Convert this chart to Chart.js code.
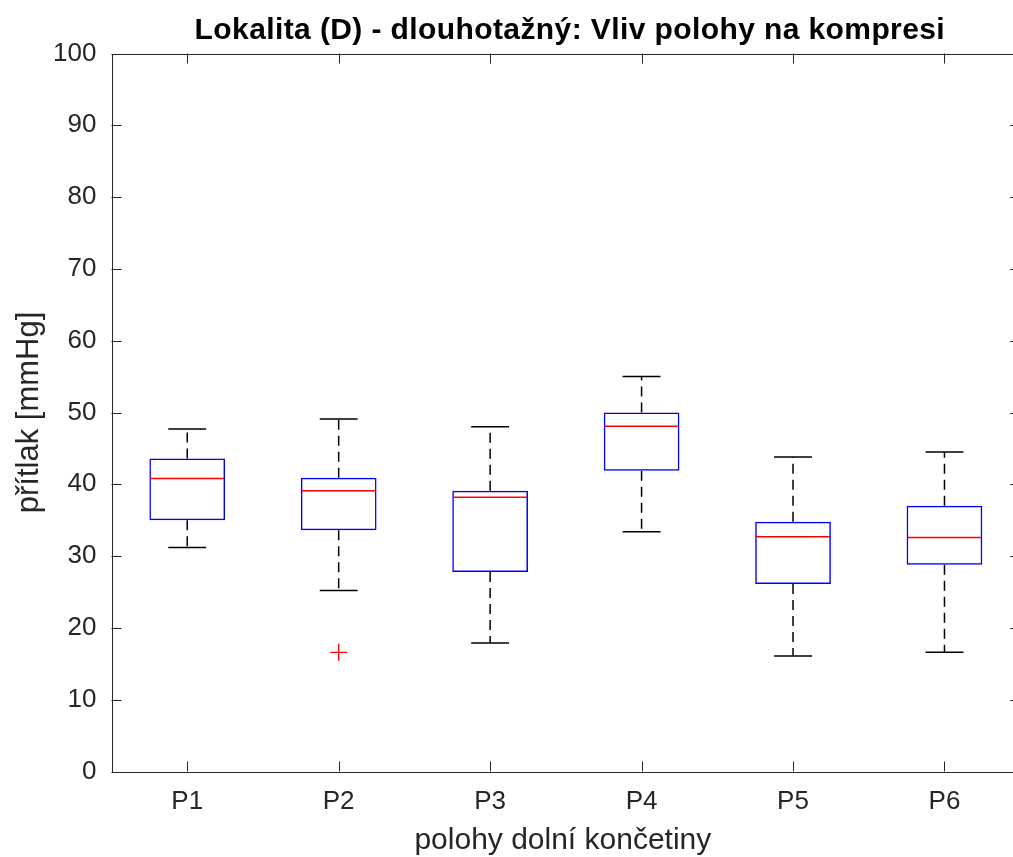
<!DOCTYPE html>
<html lang="cs">
<head>
<meta charset="utf-8">
<title>Lokalita (D) - dlouhotažný</title>
<script src="https://cdn.jsdelivr.net/npm/chart.js@4.4.1/dist/chart.umd.min.js"></script>
<style>
  html, body { margin: 0; padding: 0; background: #fff; overflow: hidden; }
  #wrap { width: 1013px; height: 857px; overflow: hidden; }
  canvas { display: block; }
</style>
</head>
<body>
<div id="wrap"><canvas id="c" width="1030" height="857"></canvas></div>
<script>
// Box plot statistics per leg position (pressure in mmHg)
const categories   = ['P1', 'P2', 'P3', 'P4', 'P5', 'P6'];
const whiskerLow   = [31.2, 25.2, 17.9, 33.4, 16.1, 16.6];
const quartile1    = [35.0, 33.6, 27.8, 41.9, 26.1, 28.8];
const medians      = [40.8, 39.1, 38.2, 48.1, 32.7, 32.6];
const quartile3    = [43.6, 40.9, 39.1, 50.0, 34.8, 37.0];
const whiskerHigh  = [47.7, 49.1, 48.0, 55.0, 43.8, 44.5];
const outliers     = [null, 16.6, null, null, null, null];
const yTicks       = [0, 10, 20, 30, 40, 50, 60, 70, 80, 90, 100];

const FONT = '"Liberation Sans", Arial, Helvetica, sans-serif';
const TEXT = '#262626';
const AXIS = '#262626';

// Whiskers, caps, medians, inward tick marks and the axes box
const boxExtras = {
  id: 'boxExtras',
  beforeDatasetsDraw(chart) {
    const { ctx, scales: { x, y } } = chart;
    const step = x.getPixelForValue(1) - x.getPixelForValue(0);
    const capHalf = step * 0.125;
    ctx.save();
    ctx.lineWidth = 1.5;
    ctx.strokeStyle = '#000';
    categories.forEach((c, i) => {
      const px = x.getPixelForValue(i);
      ctx.setLineDash([10, 6]);
      ctx.beginPath();
      ctx.moveTo(px, y.getPixelForValue(quartile3[i]));
      ctx.lineTo(px, y.getPixelForValue(whiskerHigh[i]));
      ctx.moveTo(px, y.getPixelForValue(quartile1[i]));
      ctx.lineTo(px, y.getPixelForValue(whiskerLow[i]));
      ctx.stroke();
      ctx.setLineDash([]);
      ctx.beginPath();
      const yh = y.getPixelForValue(whiskerHigh[i]);
      const yl = y.getPixelForValue(whiskerLow[i]);
      ctx.moveTo(px - capHalf, yh); ctx.lineTo(px + capHalf, yh);
      ctx.moveTo(px - capHalf, yl); ctx.lineTo(px + capHalf, yl);
      ctx.stroke();
    });
    ctx.restore();
  },
  afterDatasetsDraw(chart) {
    const { ctx, scales: { x, y } } = chart;
    const step = x.getPixelForValue(1) - x.getPixelForValue(0);
    const half = step * 0.25;
    ctx.save();
    ctx.lineWidth = 1.5;
    ctx.strokeStyle = '#ff0000';
    categories.forEach((c, i) => {
      const px = x.getPixelForValue(i);
      const py = y.getPixelForValue(medians[i]);
      ctx.beginPath();
      ctx.moveTo(px - half + 1, py);
      ctx.lineTo(px + half - 1, py);
      ctx.stroke();
    });
    ctx.restore();
  },
  afterDraw(chart) {
    const { ctx, chartArea: a, scales: { x, y } } = chart;
    const tl = 10;
    ctx.save();
    ctx.strokeStyle = AXIS;
    ctx.lineWidth = 1;
    ctx.beginPath();
    ctx.rect(Math.round(a.left) + 0.5, Math.round(a.top) + 0.5,
             Math.round(a.right - a.left), Math.round(a.bottom - a.top));
    yTicks.forEach(v => {
      const py = Math.round(y.getPixelForValue(v)) + 0.5;
      ctx.moveTo(a.left, py); ctx.lineTo(a.left + tl, py);
      ctx.moveTo(a.right, py); ctx.lineTo(a.right - tl, py);
    });
    categories.forEach((c, i) => {
      const px = Math.round(x.getPixelForValue(i)) + 0.5;
      ctx.moveTo(px, a.bottom); ctx.lineTo(px, a.bottom - tl);
      ctx.moveTo(px, a.top); ctx.lineTo(px, a.top + tl);
    });
    ctx.stroke();

    const cx = (a.left + a.right) / 2;
    ctx.fillStyle = '#000';
    ctx.textAlign = 'center';
    ctx.textBaseline = 'middle';
    ctx.font = 'bold 30px ' + FONT;
    if ('letterSpacing' in ctx) ctx.letterSpacing = '0.4px';
    ctx.fillText('Lokalita (D) - dlouhotažný: Vliv polohy na kompresi', cx + 4, 31);
    if ('letterSpacing' in ctx) ctx.letterSpacing = '0px';

    ctx.fillStyle = TEXT;
    ctx.font = '30px ' + FONT;
    ctx.fillText('polohy dolní končetiny', cx - 3, 841);

    ctx.translate(29, (a.top + a.bottom) / 2);
    ctx.rotate(-Math.PI / 2);
    ctx.font = '31px ' + FONT;
    ctx.fillText('přítlak [mmHg]', 0, 0);
    ctx.restore();
  }
};

new Chart(document.getElementById('c'), {
  type: 'bar',
  data: {
    labels: categories,
    datasets: [
      {
        label: 'IQR',
        data: quartile1.map((q, i) => [q, quartile3[i]]),
        backgroundColor: 'rgba(0,0,0,0)',
        borderColor: '#0000ff',
        borderWidth: 1.5,
        borderSkipped: false,
        barPercentage: 0.5,
        categoryPercentage: 1,
        grouped: false,
        order: 2
      },
      {
        type: 'line',
        label: 'odlehlé hodnoty',
        data: outliers,
        showLine: false,
        pointStyle: 'cross',
        pointRadius: 8.5,
        pointBorderWidth: 1.3,
        borderColor: '#ff0000',
        backgroundColor: '#ff0000',
        order: 1
      }
    ]
  },
  options: {
    responsive: false,
    animation: false,
    events: [],
    layout: { padding: { top: 53.5, right: 9, left: 0, bottom: 0 } },
    plugins: { legend: { display: false }, title: { display: false }, tooltip: { enabled: false } },
    scales: {
      x: {
        offset: true,
        grid: { display: false, drawTicks: false },
        border: { display: false },
        ticks: { color: TEXT, font: { family: FONT, size: 26 }, padding: 15 },
        afterFit(s) { s.height = 85.5; }
      },
      y: {
        min: 0,
        max: 100,
        afterBuildTicks(s) { s.ticks = yTicks.map(v => ({ value: v })); },
        grid: { display: false, drawTicks: false },
        border: { display: false },
        ticks: { color: TEXT, font: { family: FONT, size: 26 }, padding: 15 },
        afterFit(s) { s.width = 111.5; }
      }
    }
  },
  plugins: [boxExtras]
});
</script>
</body>
</html>
